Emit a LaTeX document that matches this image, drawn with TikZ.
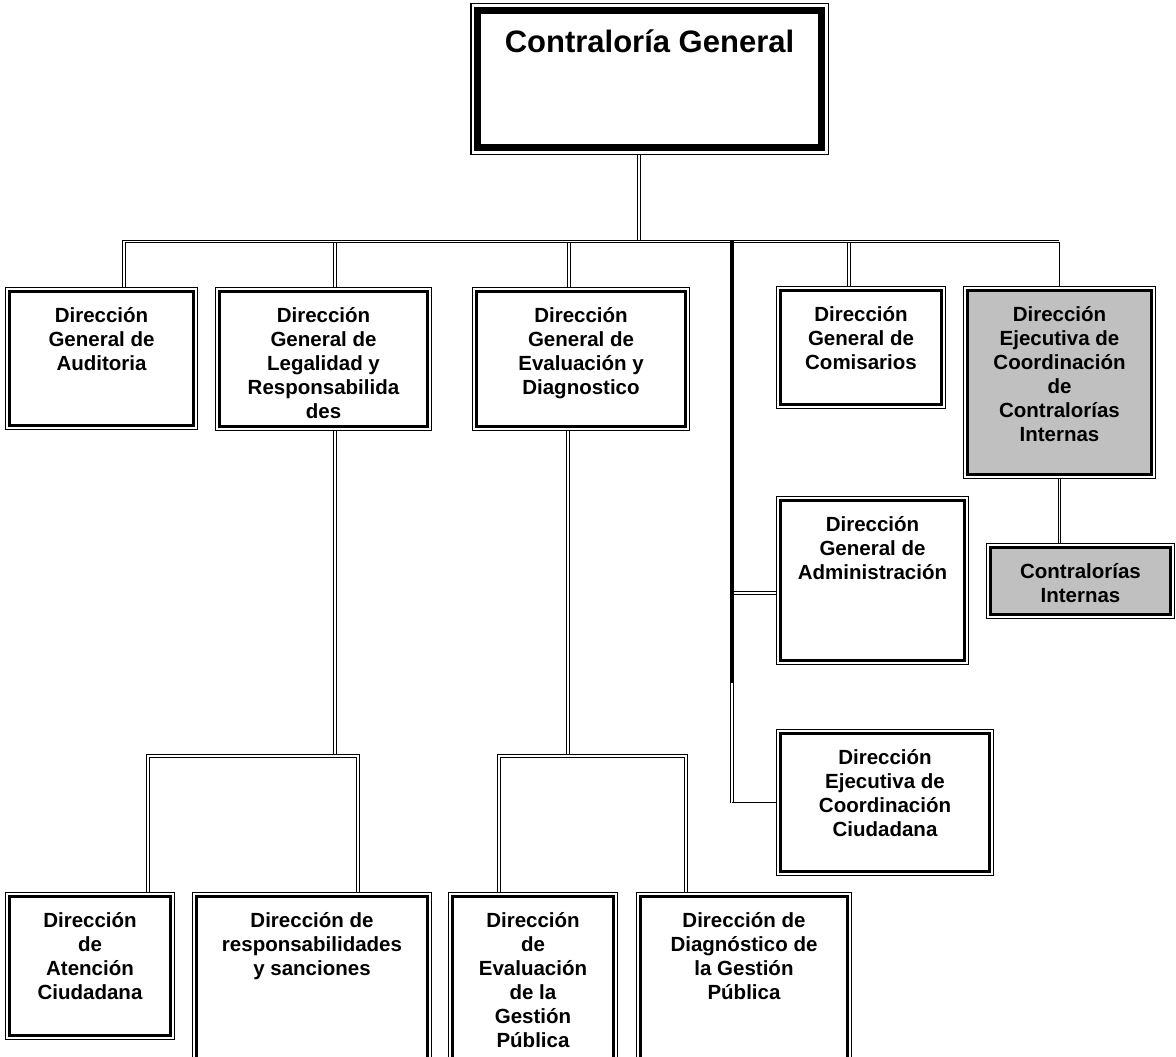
\documentclass[tikz,border=0pt]{standalone}
\usepackage{fontspec}
\setmainfont{Liberation Sans}
\definecolor{unitgray}{RGB}{192,192,192}
\tikzstyle{orgbox}=[draw, line width=3pt, fill=white, inner sep=0pt, outer sep=4.5pt, anchor=north west, font=\fontsize{20.5}{24}\selectfont\bfseries, preaction={draw, line width=9pt}, preaction={draw=white, line width=6.6pt}]
\tikzstyle{graybox}=[orgbox, fill=unitgray]
\tikzstyle{topbox}=[draw, line width=7pt, fill=white, inner sep=0pt, outer sep=7.5pt, anchor=north west, font=\fontsize{31}{36}\selectfont\bfseries, preaction={draw, line width=15pt}, preaction={draw=white, line width=12pt}]
\tikzstyle{link}=[line width=0.9pt, double=white, double distance=1.8pt]
\tikzstyle{thinlink}=[line width=1pt]
\tikzstyle{bar}=[line width=4pt]
% text at the top of a box: [baseline offset]{width}{height}{text}
\newcommand{\orgtext}[4][31pt]{\parbox[c][#3][t]{#2}{\centering\rule{0pt}{#1}#4}}

\begin{document}
\begin{tikzpicture}[x=1pt, y=-1pt]
    \path[use as bounding box] (0,0) rectangle (1176,1057);
    \clip (0,0) rectangle (1176,1057);

    % Units
    \node[topbox] (gen) at (470,3) {\orgtext[42.5pt]{344pt}{137pt}{Contraloría General}};
    \node[orgbox] (aud) at (5,287) {\orgtext{184pt}{134pt}{Dirección\\General de\\Auditoria}};
    \node[orgbox] (legal) at (215,287) {\orgtext{208pt}{135pt}{Dirección\\General de\\Legalidad y\\Responsabilida\\des}};
    \node[orgbox] (evdi) at (472,287) {\orgtext{209pt}{135pt}{Dirección\\General de\\Evaluación y\\Diagnostico}};
    \node[orgbox] (comis) at (776,286) {\orgtext{161pt}{114pt}{Dirección\\General de\\Comisarios}};
    \node[graybox] (ejci) at (963,286) {\orgtext{184pt}{184pt}{Dirección\\Ejecutiva de\\Coordinación\\de\\Contralorías\\Internas}};
    \node[graybox] (cint) at (986,543) {\orgtext{180pt}{67pt}{Contralorías\\Internas}};
    \node[orgbox] (admin) at (776,496) {\orgtext{184pt}{160pt}{Dirección\\General de\\Administración}};
    \node[orgbox] (ciud) at (776,729) {\orgtext{209pt}{138pt}{Dirección\\Ejecutiva de\\Coordinación\\Ciudadana}};
    \node[orgbox] (aten) at (5,892) {\orgtext{161pt}{139pt}{Dirección\\de\\Atención\\Ciudadana}};
    \node[orgbox] (resp) at (192,892) {\orgtext{231pt}{199pt}{Dirección de\\responsabilidades\\y sanciones}};
    \node[orgbox] (evgp) at (448,892) {\orgtext{161pt}{199pt}{Dirección\\de\\Evaluación\\de la\\Gestión\\Pública}};
    \node[orgbox] (diag) at (636,892) {\orgtext{207pt}{199pt}{Dirección de\\Diagnóstico de\\la Gestión\\Pública}};

    % Joints
    \coordinate (dG) at (639,241.5);
    \coordinate (dA) at (124,241.5);
    \coordinate (dL) at (335,241.5);
    \coordinate (dE) at (569,241.5);
    \coordinate (dC) at (849,241.5);
    \coordinate (dT) at (732,240);
    \coordinate (busE) at (1059,241.5);
    \coordinate (jA) at (732,593);
    \coordinate (kT) at (732,683);
    \coordinate (kB) at (732,802.5);
    \coordinate (jL) at (335,756);
    \coordinate (jL1) at (148,756);
    \coordinate (jL2) at (358,756);
    \coordinate (jE) at (568,756);
    \coordinate (jE1) at (499,756);
    \coordinate (jE2) at (686,756);

    % Bus
    \draw[link] (gen.south -| dG) -- (dG);
    \draw[link] (dL) -- (dL |- legal.north);
    \draw[link] (dE) -- (dE |- evdi.north);
    \draw[link] (dC) -- (dC |- comis.north);
    \draw[thinlink] (busE) -- (busE |- ejci.north);
    \draw[link] (aud.north -| dA) |- (busE);

    % Staff line
    \draw[link] (jA) -- (jA -| admin.west);
    \draw[link] (kT) -- (kB);
    \draw[thinlink] (kB) -- (kB -| ciud.west);
    \draw[bar] (dT) -- (kT);

    % Lower branches
    \draw[link] (legal.south -| jL) -- (jL);
    \draw[link] (jL1 |- aten.north) -- (jL1) -- (jL2) -- (jL2 |- resp.north);
    \draw[link] (evdi.south -| jE) -- (jE);
    \draw[link] (jE1 |- evgp.north) -- (jE1) -- (jE2) -- (jE2 |- diag.north);
    \draw[link] (ejci.south) -- (ejci.south |- cint.north);

\end{tikzpicture}
\end{document}
